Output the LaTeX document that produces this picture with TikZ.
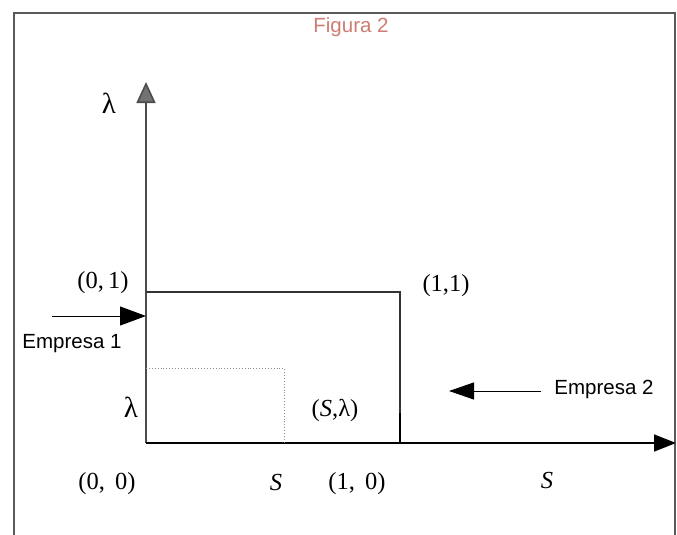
\documentclass[tikz,border=0pt]{standalone}
\usepackage{fontspec}
\setmainfont{Liberation Serif}
\newfontfamily\arialf{Liberation Sans}
\usetikzlibrary{arrows.meta}
\definecolor{titlecol}{RGB}{205,125,115}
\definecolor{framecol}{RGB}{90,90,90}
\tikzset{
  axis/.style={line width=1.6pt, black},
  boxline/.style={line width=1.1pt, black!80},
  dotline/.style={line width=0.9pt, black!45, dotted},
  framel/.style={line width=1.2pt, framecol},
  sanslbl/.style={font=\arialf\fontsize{20.5}{22}\selectfont, inner sep=0pt},
  seriflbl/.style={font=\fontsize{24.5}{27}\selectfont, inner sep=0pt},
  lamlbl/.style={font=\fontsize{29}{30}\selectfont, inner sep=0pt},
  bigtip/.style={-{Triangle[length=22pt,width=17pt]}},
}
\begin{document}
\begin{tikzpicture}[x=1pt,y=-1pt]
\useasboundingbox (0,0) rectangle (677,535);
% frame
\coordinate (fbl) at (14,535);
\coordinate (ftl) at (14,13);
\coordinate (ftr) at (675,13);
\coordinate (fbr) at (675,535);
\draw[framel] (fbl) -- (ftl) -- (ftr) -- (fbr);
% title
\node[sanslbl, text=titlecol] (title) at (351,27) {Figura 2};
% axes
\coordinate (o) at (146,443);
\coordinate (ytip) at (146,82);
\coordinate (xtip) at (676,443);
\draw[axis, -{Triangle[length=21pt,width=19pt,fill=black!55]}, draw=black!70] (o) -- (ytip);
\draw[axis, bigtip] (o) -- (xtip);
% unit square
\coordinate (p01) at (146,292);
\coordinate (p11) at (400,292);
\coordinate (p10) at (400,443);
\draw[boxline] (p01) -- (p11) -- (p10);
\draw[line width=1.6pt] (p10) -- ++(0,-30);
% dotted box
\coordinate (pl) at (146,368);
\coordinate (psl) at (284,368);
\coordinate (ps) at (284,443);
\draw[dotline] (pl) -- (psl) -- (ps);
% Empresa arrows
\coordinate (e1s) at (52,316);
\coordinate (e1e) at (146,316);
\draw[line width=1pt, -{Triangle[length=26pt,width=19pt]}] (e1s) -- (e1e);
\coordinate (e2s) at (541,391);
\coordinate (e2e) at (449,391);
\draw[line width=1pt, -{Triangle[length=25pt,width=17pt]}] (e2s) -- (e2e);
\node[sanslbl] (emp1) at (72,344) {Empresa 1};
\node[sanslbl] (emp2) at (604,389) {Empresa 2};
% labels
\node[lamlbl] (lamtop) at (109,103) {λ};
\node[lamlbl] (lam) at (131,407) {λ};
\node[seriflbl] (l01) at (103,283) {(0,\,1)};
\node[seriflbl] (l11) at (446,286) {(1,1)};
\node[seriflbl] (lsl) at (335,410) {(\textit{S},λ)};
\node[seriflbl] (l00) at (107,484) {(0,\, 0)};
\node[seriflbl] (ls) at (276,483) {\textit{S}};
\node[seriflbl] (l10) at (357,484) {(1,\, 0)};
\node[seriflbl] (lS) at (547,481) {\textit{S}};
\end{tikzpicture}
\end{document}
